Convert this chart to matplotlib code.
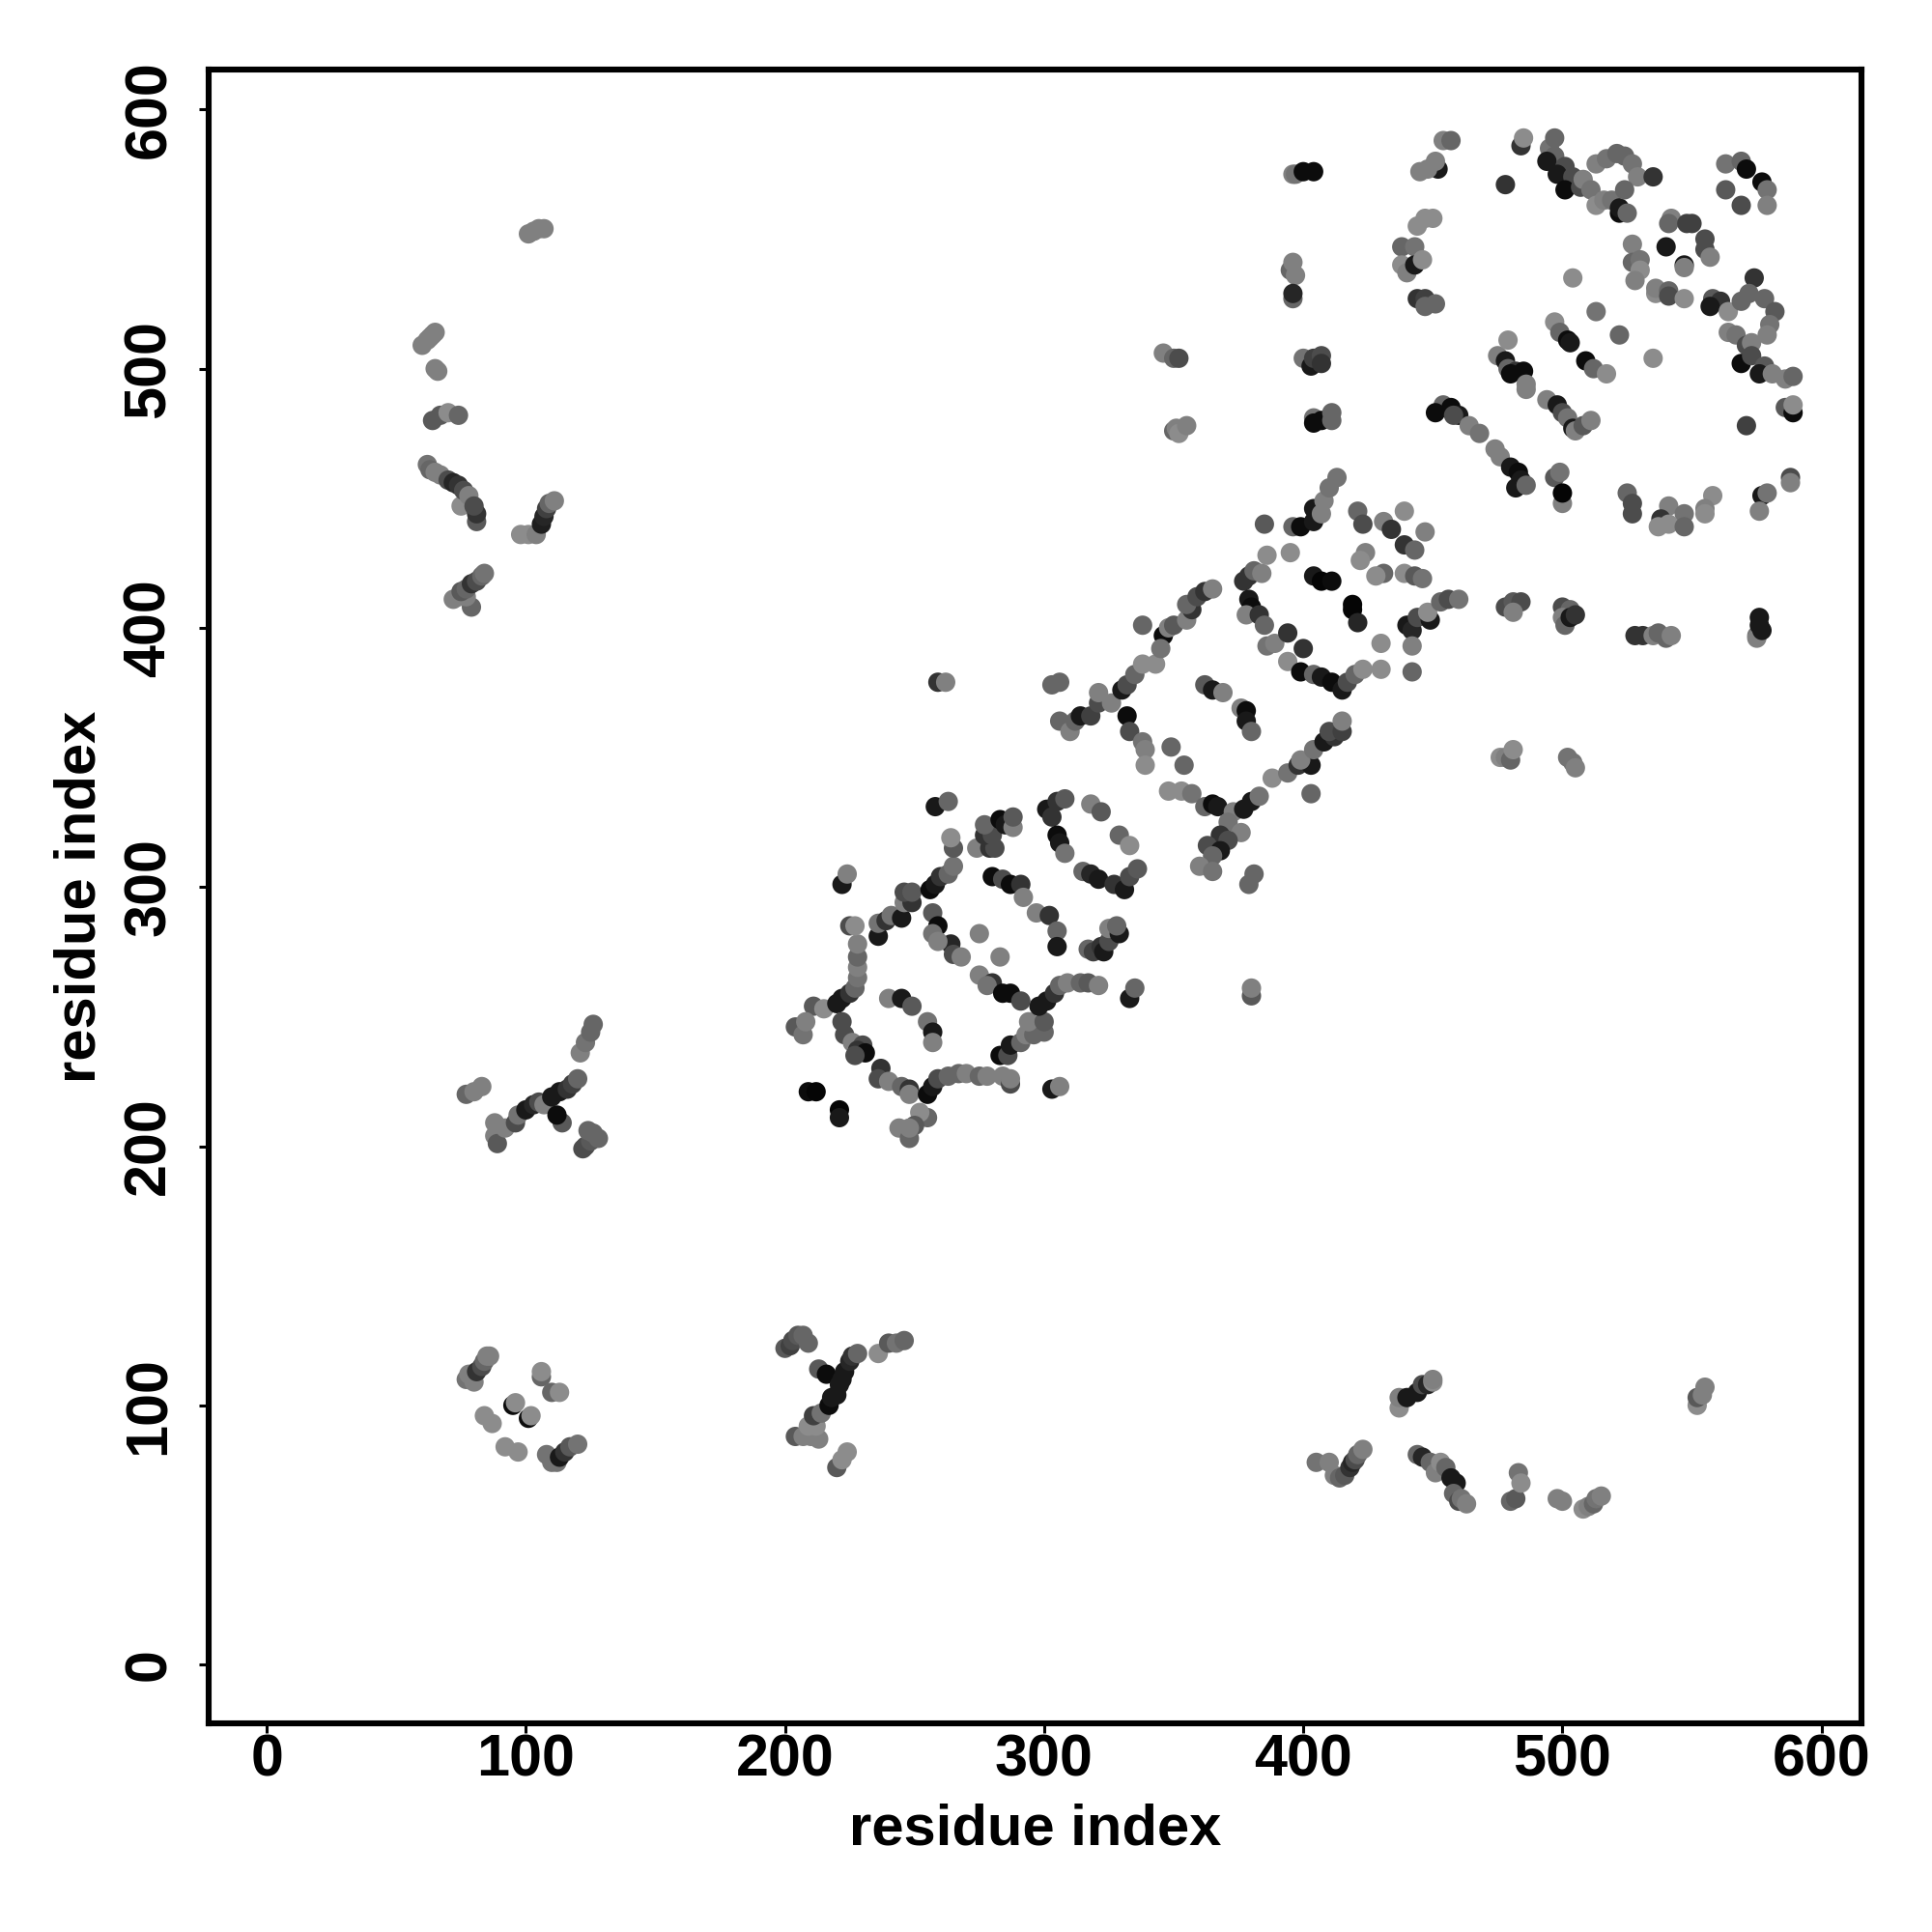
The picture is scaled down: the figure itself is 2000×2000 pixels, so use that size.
import matplotlib
matplotlib.use("Agg")
import matplotlib.pyplot as plt

plt.rcParams['font.family'] = ['Liberation Sans', 'DejaVu Sans']
plt.rcParams['font.weight'] = 'bold'

# (residue i, residue j, grey level), region by region
far_left = [
    (101,552,.5),(103,553,.5),(105,554,.5),(107,554,.5),
    (60,509,.5),(62,511,.5),(63,512,.5),(64,513,.5),(65,514,.5),(65,500,.5),(66,499,.5),
    (64,480,.35),(67,482,.35),(70,483,.55),(74,482,.4),
    (62,463,.45),(63,461,.4),(65,460,.5),(67,459,.5),(70,457,.3),(72,456,.15),(74,455,.2),
    (75,447,.55),(76,453,.3),(78,451,.5),(81,441,.35),(81,444,.2),(80,447,.3),
    (98,436,.55),(101,436,.55),(104,436,.5),(106,440,.12),(107,443,.15),(108,446,.25),(109,448,.4),(111,449,.5),
    (79,408,.4),(72,411,.5),(74,412,.5),(77,412,.5),(75,414,.35),(77,415,.4),(79,417,.2),(81,418,.3),(83,420,.4),(84,421,.45),
    (77,220,.4),(80,221,.5),(83,223,.5),(88,209,.5),(88,204,.5),(89,201,.35),(92,207,.5),(96,209,.3),(97,212,.45),
    (100,214,.1),(103,216,.15),(105,217,.3),(107,216,.5),(114,209,.35),(112,212,.05),(110,219,.1),(113,221,.1),
    (116,222,.2),(118,224,.25),(120,226,.4),(121,236,.5),(123,240,.45),(125,244,.4),(126,247,.4),
    (122,199,.3),(123,200,.3),(125,202,.35),(124,206,.4),(126,205,.4),(128,203,.4),
    (77,110,.45),(78,112,.5),(80,109,.5),(81,113,.2),(83,115,.3),(84,117,.4),(85,119,.5),(86,119,.5),
    (84,96,.55),(87,93,.55),(95,100,.05),(96,101,.55),(101,95,.05),(102,96,.55),(92,84,.55),(97,82,.55),
    (106,111,.4),(106,113,.55),(110,105,.4),(113,105,.55),
    (108,81,.45),(110,78,.45),(112,78,.45),(113,80,.1),(115,82,.2),(117,84,.35),(120,85,.45),
    (200,122,.35),(202,123,.25),(203,125,.3),(205,127,.35),(207,127,.4),(209,124,.4),
    (204,88,.35),(207,88,.5),(210,88,.5),(213,87,.5),(209,92,.55),(212,92,.55),(211,96,.25),(214,97,.45),
    (213,114,.35),(216,112,.05),(217,100,.05),(218,103,.1),(220,104,.1),(221,108,.1),(222,110,.1),(223,113,.1),
    (225,117,.15),(226,119,.2),(228,120,.4),
    (220,76,.35),(222,79,.55),(224,82,.55),(236,120,.55),(240,124,.35),(243,124,.45),(246,125,.4),
]

lower_right = [
    (405,78,.45),(410,78,.5),(412,73,.5),(414,72,.4),(416,73,.35),(418,76,.2),(419,78,.15),(420,79,.3),(421,81,.4),(423,83,.5),
    (437,99,.55),(437,103,.5),(440,103,.1),(444,105,.1),(446,108,.3),(448,108,.15),(450,109,.55),(450,110,.5),
    (444,81,.4),(446,80,.15),(449,78,.4),(451,74,.5),(453,78,.55),(455,76,.4),(457,72,.1),(459,70,.1),(458,66,.4),(460,63,.3),(461,64,.45),(463,62,.5),
    (480,63,.4),(482,64,.35),(483,74,.45),(484,70,.55),(498,64,.5),(500,63,.5),
    (508,60,.55),(510,61,.5),(512,62,.4),(513,64,.45),(515,65,.5),
    (552,100,.55),(552,103,.35),(554,104,.5),(555,107,.5),
]

helix_one = [
    (209,221,.05),(212,221,.02),(221,214,.02),(221,211,.1),
    (204,246,.35),(207,243,.45),(211,254,.35),(208,248,.5),(215,253,.55),
    (220,255,.1),(222,257,.1),(225,259,.2),(227,261,.4),(228,265,.45),(228,269,.5),(228,273,.4),(228,278,.5),(225,285,.3),(227,285,.55),
    (222,248,.3),(223,243,.3),(226,240,.5),(230,239,.3),(228,237,.2),(231,236,.05),(227,235,.3),
    (237,230,.2),(236,226,.3),(240,225,.5),(245,223,.4),(248,222,.2),(248,220,.5),
    (255,220,.05),(257,223,.1),(259,226,.3),(263,227,.4),(267,228,.4),(270,228,.5),(275,227,.4),(278,227,.5),(284,227,.5),(287,224,.3),(287,226,.5),
    (255,211,.4),(252,213,.55),(250,208,.35),(244,207,.5),(248,203,.4),(248,207,.5),(303,222,.1),(306,223,.5),
    (240,257,.5),(245,257,.1),(249,254,.35),(255,248,.45),(257,244,.1),(257,240,.5),
    (283,235,.05),(286,235,.3),(287,239,.1),(291,240,.4),(293,243,.5),(296,243,.4),(300,244,.4),(294,248,.5),(300,248,.35),
    (298,254,.1),(301,256,.1),(304,259,.2),(306,262,.4),(309,263,.5),(314,263,.4),(317,263,.35),(321,262,.5),(333,257,.1),(335,261,.4),
    (257,290,.35),(259,285,.05),(257,282,.45),(264,278,.15),(259,279,.5),(265,274,.3),(268,273,.5),(275,266,.5),(280,263,.2),(278,262,.45),
    (284,259,.05),(287,259,.05),(291,256,.3),(275,282,.5),(283,273,.5),
    (236,281,.1),(236,286,.45),(239,287,.2),(241,289,.45),(245,288,.1),(246,294,.5),(249,294,.2),(246,298,.3),(249,298,.35),
    (256,299,.05),(258,301,.1),(260,304,.2),(263,305,.4),(265,308,.45),(265,315,.35),(264,319,.55),
    (258,331,.1),(263,333,.4),(222,301,.1),(224,305,.5),
    (274,315,.5),(279,315,.2),(281,315,.3),(277,320,.2),(280,320,.3),(277,324,.4),(283,326,.05),(285,324,.1),(288,323,.5),(288,327,.35),
    (280,304,.05),(284,303,.3),(287,301,.05),(291,301,.2),(292,296,.5),(297,290,.5),(302,289,.2),(305,283,.4),(305,277,.1),
    (301,330,.1),(305,333,.2),(308,334,.35),(303,327,.2),(305,320,.05),(306,317,.1),(308,313,.45),
    (318,332,.5),(322,329,.35),(329,320,.4),(333,316,.55),
    (315,306,.4),(318,305,.15),(321,303,.1),(327,301,.2),(331,299,.1),(333,304,.3),(336,307,.35),
    (317,276,.4),(319,275,.25),(322,277,.2),(323,275,.1),(325,279,.3),(325,284,.5),(329,282,.1),(328,285,.4),
]

helix_two = [
    (303,378,.4),(306,379,.4),(259,379,.2),(262,379,.5),
    (306,364,.4),(310,360,.5),(312,364,.4),(314,366,.1),(318,366,.25),(321,371,.3),(321,375,.5),(326,371,.5),(330,376,.1),(332,378,.3),
    (335,382,.4),(338,386,.55),(343,386,.55),(346,397,.05),(345,392,.45),(348,400,.5),(350,401,.35),(355,403,.5),(357,407,.2),(355,409,.4),
    (359,412,.3),(362,414,.2),(365,415,.5),(338,401,.4),
    (332,366,.05),(333,360,.3),(338,356,.45),(339,353,.5),(339,347,.55),(349,354,.4),(354,347,.4),
    (348,337,.55),(353,337,.55),(357,336,.45),(362,331,.4),(365,332,.05),(367,331,.1),
    (373,329,.5),(377,330,.1),(380,333,.1),(383,335,.45),(388,342,.55),(394,344,.45),(398,347,.2),(403,347,.1),(399,349,.5),
    (404,353,.45),(408,356,.1),(412,358,.2),(410,360,.3),(415,360,.25),(415,364,.5),(403,336,.4),
    (371,325,.45),(376,321,.5),(368,320,.2),(371,318,.3),(363,316,.3),(368,314,.1),(365,312,.4),(360,308,.5),(365,306,.45),
    (379,301,.4),(381,305,.4),(380,258,.35),(380,261,.5),
    (362,378,.35),(365,376,.1),(369,375,.5),(376,369,.5),(378,368,.05),(378,364,.1),(380,360,.4),
    (377,418,.2),(379,420,.2),(381,422,.4),(384,421,.5),(386,428,.55),(379,411,.1),(380,408,.05),(378,405,.5),(383,405,.2),(385,401,.4),
    (386,393,.45),(389,394,.5),(394,398,.2),(400,392,.2),(395,429,.55),
    (394,387,.55),(399,383,.05),(404,382,.4),(407,381,.1),(411,379,.05),(415,376,.1),(417,379,.3),(420,382,.4),(423,384,.55),(430,384,.55),(442,383,.4),(430,394,.55),
    (404,420,.1),(407,418,.02),(411,418,.05),(419,409,.02),(419,407,.02),(421,402,.15),
    (385,440,.35),(396,439,.4),(399,439,.05),(404,441,.1),(404,446,.1),(407,444,.5),(408,449,.5),(410,454,.45),(413,458,.45),
    (421,445,.4),(423,440,.3),(431,441,.5),(434,438,.2),(439,445,.55),(447,437,.5),
    (424,429,.5),(422,426,.55),(431,421,.4),(428,420,.55),(439,432,.2),(443,430,.4),(439,421,.55),(443,420,.35),(446,419,.45),
    (440,401,.1),(442,399,.15),(442,393,.5),(444,404,.3),(449,403,.1),(448,406,.55),(453,410,.4),(456,411,.3),(460,411,.45),
]

top_right = [
    (396,575,.5),(397,575,.45),(400,576,.05),(404,576,.05),
    (395,538,.4),(396,541,.5),(397,536,.5),(396,527,.4),(396,529,.15),
    (400,504,.45),(403,501,.1),(404,504,.25),(407,505,.3),(407,502,.2),
    (404,481,.45),(404,479,.05),(407,480,.05),(411,483,.4),(411,480,.4),
    (346,506,.5),(350,504,.4),(352,504,.3),(350,476,.4),(351,477,.5),(352,475,.55),(355,478,.5),
    (454,588,.5),(457,588,.4),(452,577,.1),(451,580,.5),(448,577,.5),(445,576,.5),
    (450,558,.55),(447,558,.55),(444,555,.55),(438,547,.4),(443,547,.45),(438,540,.55),(440,537,.5),(443,540,.1),(446,542,.55),
    (444,527,.2),(447,527,.25),(451,525,.4),(447,524,.4),
    (484,586,.2),(485,589,.55),(478,571,.2),
    (495,585,.45),(497,589,.4),(497,582,.4),(494,580,.1),(501,578,.3),(498,575,.1),(504,574,.3),(501,569,.05),(507,570,.3),(508,573,.5),
    (511,569,.45),(513,563,.55),(516,565,.5),(519,565,.45),(522,560,.05),(522,562,.1),(525,560,.4),
    (513,579,.5),(517,581,.45),(521,583,.4),(524,582,.4),(527,579,.45),(529,574,.5),(524,569,.4),(535,574,.2),
    (563,579,.45),(569,580,.4),(571,577,.05),(563,569,.35),(569,563,.3),(577,572,.05),(579,569,.45),(579,563,.5),
    (542,558,.5),(541,556,.4),(548,556,.25),(550,556,.25),(540,547,.1),(547,540,.1),(547,539,.5),(555,550,.3),(555,546,.3),(557,543,.5),
    (527,548,.5),(527,541,.4),(530,542,.45),(530,538,.55),(528,534,.5),(504,535,.55),
    (536,529,.55),(536,531,.5),(541,530,.4),(541,528,.3),(547,527,.55),
    (574,535,.2),(558,527,.35),(561,526,.2),(557,524,.1),(564,522,.55),(569,526,.4),(572,529,.4),(578,527,.4),(582,522,.35),(580,517,.45),(579,513,.5),
    (513,522,.45),(522,513,.4),(535,504,.55),
    (497,518,.55),(499,514,.4),(502,511,.05),(503,510,.1),(509,503,.05),(512,500,.4),(517,498,.55),
    (564,514,.5),(567,513,.45),(571,509,.3),(573,510,.5),(569,502,.05),(573,505,.3),(578,501,.35),(576,498,.1),(581,498,.5),(586,496,.5),(589,497,.4),
    (586,485,.35),(589,483,.05),(589,486,.55),(571,478,.25),
    (475,505,.5),(479,511,.55),(478,503,.1),(479,500,.4),(482,499,.2),(480,498,.05),(485,499,.05),(486,494,.5),(486,492,.5),
    (494,488,.5),(498,486,.1),(500,483,.3),(502,481,.45),(504,477,.1),(505,476,.5),(508,478,.35),(511,480,.5),
    (454,486,.4),(451,483,.05),(457,485,.05),(460,482,.1),(458,482,.3),(464,478,.5),(468,475,.45),
    (474,469,.5),(476,466,.5),(480,462,.1),(483,460,.05),(484,457,.1),(482,454,.1),(486,455,.4),
    (497,458,.35),(499,460,.45),(500,448,.5),(500,452,.02),
    (525,452,.4),(527,448,.3),(527,444,.3),
    (541,447,.5),(547,444,.45),(538,442,.2),(541,440,.55),(547,439,.4),(537,439,.55),(558,451,.55),(555,446,.5),(555,444,.55),
    (577,451,.1),(579,452,.45),(576,445,.5),(588,458,.3),(588,456,.5),
    (478,408,.3),(481,410,.35),(484,410,.3),(481,406,.5),
    (500,408,.3),(503,407,.4),(500,404,.5),(501,401,.4),(503,404,.1),(505,405,.2),
    (528,397,.2),(531,397,.2),(535,397,.5),(537,398,.4),(540,396,.4),(542,397,.5),
    (575,397,.45),(575,396,.5),(577,399,.1),(576,401,.1),(576,404,.1),
    (476,350,.55),(478,350,.5),(480,349,.4),(481,353,.55),(502,350,.45),(504,348,.45),(505,346,.5),
]

tick_values = [0, 100, 200, 300, 400, 500, 600]
axis_label = "residue index"

fig = plt.figure(figsize=(10, 10), dpi=200)
ax = fig.add_axes([216/2000, 1 - 1784/2000, 1711/2000, 1712/2000])

for region in [far_left, lower_right, helix_one, helix_two, top_right]:
    xs, ys, shades = zip(*region)
    ax.scatter(xs, ys, c=shades, cmap='gray', vmin=0, vmax=1, s=52, linewidths=0)

ax.set_xlim(-22.4, 615.4)
ax.set_ylim(-22.7, 615.4)
ax.set_xticks(tick_values)
ax.set_yticks(tick_values)
ax.tick_params(length=3.6, width=1.1, labelsize=22)
ax.tick_params(axis='x', pad=0.3)
ax.tick_params(axis='y', pad=8)
plt.setp(ax.get_yticklabels(), rotation=90, va='center')
for side in ax.spines.values():
    side.set_linewidth(2.2)
ax.set_xlabel(axis_label, fontsize=21.5, fontweight='bold', labelpad=5.4)
ax.set_ylabel(axis_label, fontsize=21.5, fontweight='bold', labelpad=5.8)

fig.savefig("out.png", dpi=200)
